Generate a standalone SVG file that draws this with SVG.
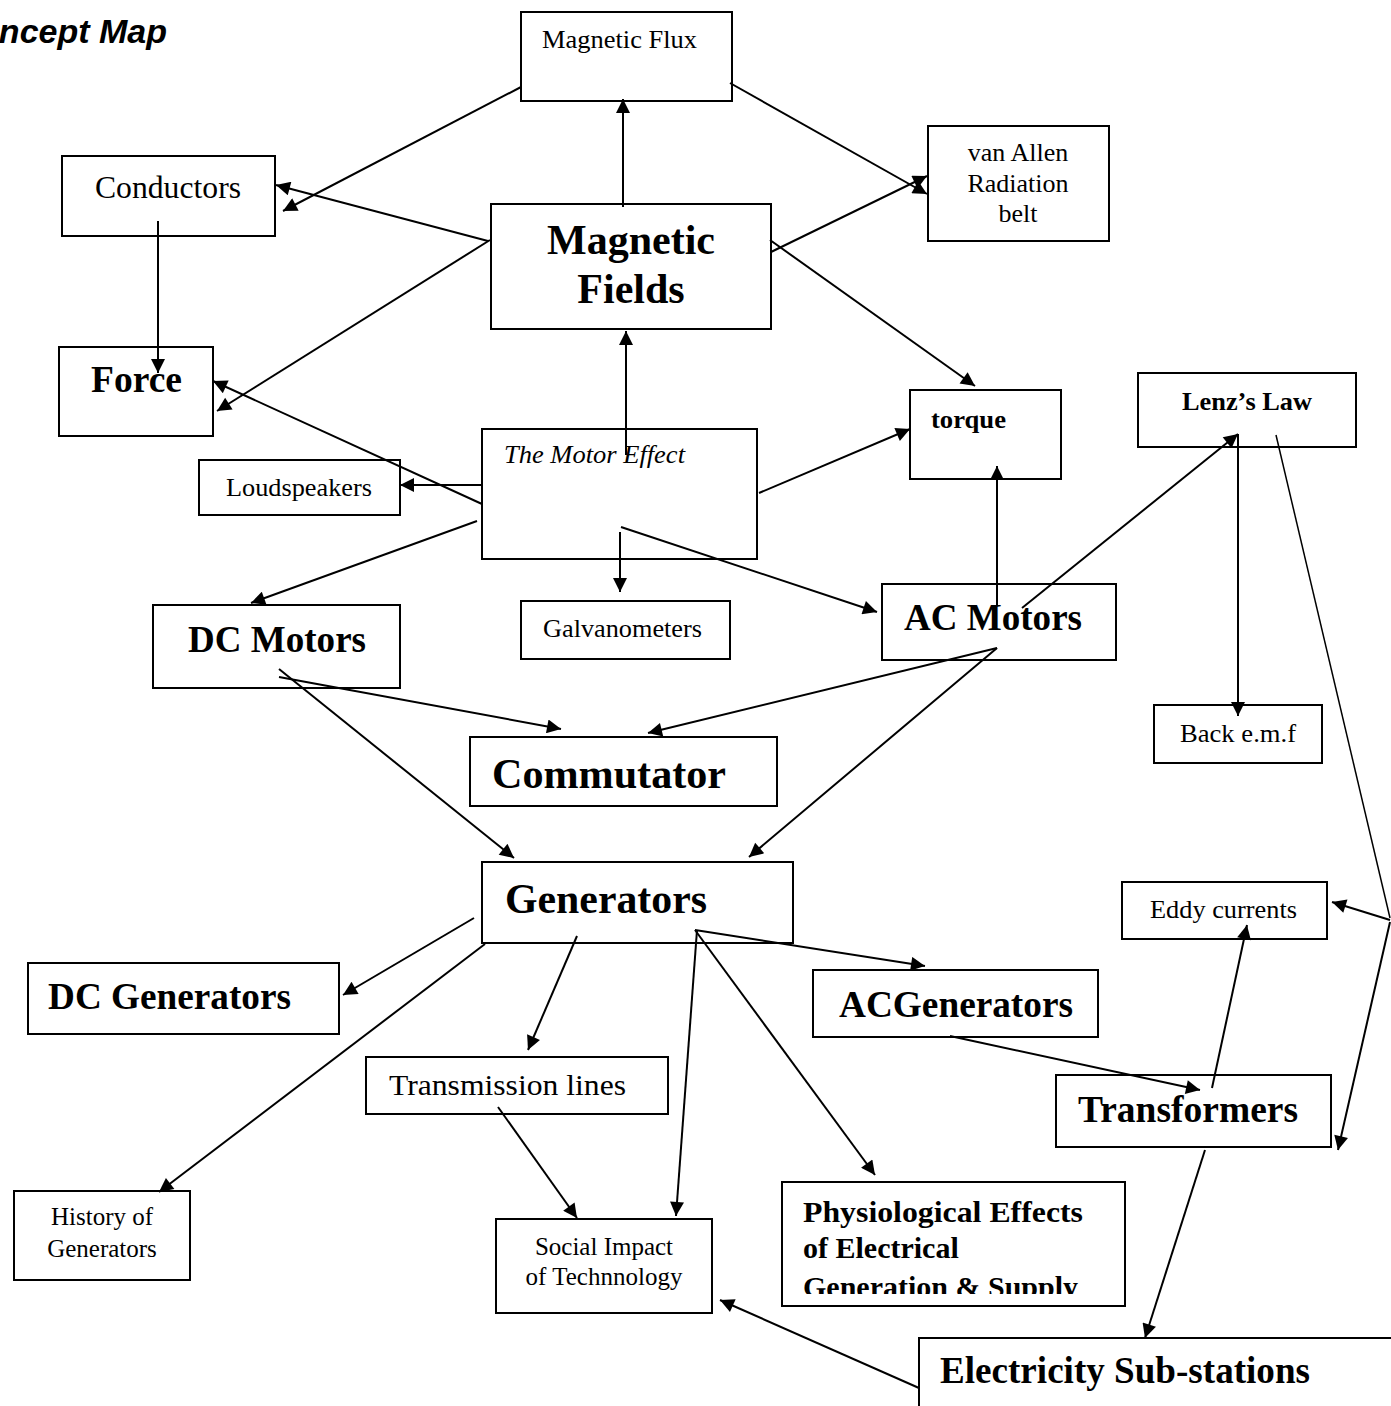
<svg xmlns="http://www.w3.org/2000/svg" width="1391" height="1406" viewBox="0 0 1391 1406">
<style>
.box{fill:none;stroke:#000;stroke-width:2}
.t{font-family:"Liberation Serif","Times New Roman",serif;fill:#000}
.b{font-weight:bold}
.i{font-style:italic}
.m{text-anchor:middle}
.c line{stroke:#000;stroke-width:2;marker-end:url(#arr)}
.c line.n{marker-end:none;stroke-width:1.5}
</style>
<defs>
<marker id="arr" viewBox="0 0 10 10" refX="10" refY="5" markerWidth="18" markerHeight="14" markerUnits="userSpaceOnUse" orient="auto">
<path d="M0,0 L10,5 L0,10 z" fill="#000"/>
</marker>
<clipPath id="physClip"><rect x="782" y="1182" width="343" height="112"/></clipPath>
</defs>
<rect width="1391" height="1406" fill="#fff"/>
<text x="167" y="43" font-family="'Liberation Sans',Arial,sans-serif" font-weight="bold" font-style="italic" font-size="34" text-anchor="end">Concept Map</text>

<g id="magnetic-flux"><rect class="box" x="521" y="12" width="211" height="89"/><text class="t" x="542" y="48" font-size="26" textLength="155" lengthAdjust="spacingAndGlyphs">Magnetic Flux</text></g>
<g id="conductors"><rect class="box" x="62" y="156" width="213" height="80"/><text class="t" x="95" y="198" font-size="31" textLength="146" lengthAdjust="spacingAndGlyphs">Conductors</text></g>
<g id="van-allen"><rect class="box" x="928" y="126" width="181" height="115"/><text class="t m" x="1018" y="161" font-size="26">van Allen</text><text class="t m" x="1018" y="192" font-size="26">Radiation</text><text class="t m" x="1018" y="222" font-size="26">belt</text></g>
<g id="magnetic-fields"><rect class="box" x="491" y="204" width="280" height="125"/><text class="t b m" x="631" y="254" font-size="42">Magnetic</text><text class="t b m" x="631" y="303" font-size="42">Fields</text></g>
<g id="force"><rect class="box" x="59" y="347" width="154" height="89"/><text class="t b" x="91" y="392" font-size="37" textLength="91" lengthAdjust="spacingAndGlyphs">Force</text></g>
<g id="loudspeakers"><rect class="box" x="199" y="460" width="201" height="55"/><text class="t" x="226" y="496" font-size="26" textLength="146" lengthAdjust="spacingAndGlyphs">Loudspeakers</text></g>
<g id="motor-effect"><rect class="box" x="482" y="429" width="275" height="130"/><text class="t i" x="504" y="463" font-size="26" textLength="181" lengthAdjust="spacingAndGlyphs">The Motor Effect</text></g>
<g id="torque"><rect class="box" x="910" y="390" width="151" height="89"/><text class="t b" x="931" y="428" font-size="26" textLength="75" lengthAdjust="spacingAndGlyphs">torque</text></g>
<g id="lenz"><rect class="box" x="1138" y="373" width="218" height="74"/><text class="t b" x="1182" y="410" font-size="26" textLength="130" lengthAdjust="spacingAndGlyphs">Lenz’s Law</text></g>
<g id="galvanometers"><rect class="box" x="521" y="601" width="209" height="58"/><text class="t" x="543" y="637" font-size="26" textLength="159" lengthAdjust="spacingAndGlyphs">Galvanometers</text></g>
<g id="dc-motors"><rect class="box" x="153" y="605" width="247" height="83"/><text class="t b" x="188" y="652" font-size="37" textLength="178" lengthAdjust="spacingAndGlyphs">DC Motors</text></g>
<g id="ac-motors"><rect class="box" x="882" y="584" width="234" height="76"/><text class="t b" x="904" y="630" font-size="37" textLength="178" lengthAdjust="spacingAndGlyphs">AC Motors</text></g>
<g id="back-emf"><rect class="box" x="1154" y="705" width="168" height="58"/><text class="t" x="1180" y="742" font-size="26" textLength="116" lengthAdjust="spacingAndGlyphs">Back e.m.f</text></g>
<g id="commutator"><rect class="box" x="470" y="737" width="307" height="69"/><text class="t b" x="492" y="788" font-size="42" textLength="234" lengthAdjust="spacingAndGlyphs">Commutator</text></g>
<g id="generators"><rect class="box" x="482" y="862" width="311" height="81"/><text class="t b" x="505" y="913" font-size="42" textLength="202" lengthAdjust="spacingAndGlyphs">Generators</text></g>
<g id="eddy"><rect class="box" x="1122" y="882" width="205" height="57"/><text class="t" x="1150" y="918" font-size="26" textLength="147" lengthAdjust="spacingAndGlyphs">Eddy currents</text></g>
<g id="dc-generators"><rect class="box" x="28" y="963" width="311" height="71"/><text class="t b" x="48" y="1009" font-size="37" textLength="243" lengthAdjust="spacingAndGlyphs">DC Generators</text></g>
<g id="ac-generators"><rect class="box" x="813" y="970" width="285" height="67"/><text class="t b" x="839" y="1017" font-size="37" textLength="234" lengthAdjust="spacingAndGlyphs">ACGenerators</text></g>
<g id="transmission"><rect class="box" x="366" y="1057" width="302" height="57"/><text class="t" x="389" y="1095" font-size="30" textLength="237" lengthAdjust="spacingAndGlyphs">Transmission lines</text></g>
<g id="transformers"><rect class="box" x="1056" y="1075" width="275" height="72"/><text class="t b" x="1078" y="1122" font-size="37" textLength="220" lengthAdjust="spacingAndGlyphs">Transformers</text></g>
<g id="history"><rect class="box" x="14" y="1191" width="176" height="89"/><text class="t m" x="102" y="1225" font-size="25">History of</text><text class="t m" x="102" y="1257" font-size="25">Generators</text></g>
<g id="social"><rect class="box" x="496" y="1219" width="216" height="94"/><text class="t m" x="604" y="1255" font-size="25">Social Impact</text><text class="t m" x="604" y="1285" font-size="25">of Technnology</text></g>
<g id="physiological"><rect class="box" x="782" y="1182" width="343" height="124"/><g clip-path="url(#physClip)"><text class="t b" x="803" y="1222" font-size="30" textLength="280" lengthAdjust="spacingAndGlyphs">Physiological Effects</text><text class="t b" x="803" y="1258" font-size="30">of Electrical</text><text class="t b" x="803" y="1297" font-size="30">Generation &amp; Supply</text></g></g>
<g id="substations"><rect class="box" x="919" y="1338" width="490" height="100"/><text class="t b" x="940" y="1383" font-size="37" textLength="370" lengthAdjust="spacingAndGlyphs">Electricity Sub-stations</text></g>

<g id="connectors" class="c">
<line x1="521" y1="87" x2="283" y2="211"/>
<line x1="488" y1="241" x2="276" y2="185"/>
<line x1="490" y1="240" x2="217" y2="411"/>
<line x1="158" y1="221" x2="158" y2="373"/>
<line x1="623" y1="207" x2="623" y2="99"/>
<line x1="730" y1="83" x2="927" y2="194"/>
<line x1="771" y1="252" x2="927" y2="176"/>
<line x1="770" y1="240" x2="975" y2="386"/>
<line x1="626" y1="455" x2="626" y2="331"/>
<line x1="482" y1="485" x2="400" y2="485"/>
<line x1="482" y1="504" x2="213" y2="381"/>
<line x1="477" y1="521" x2="251" y2="603"/>
<line x1="759" y1="493" x2="910" y2="429"/>
<line x1="620" y1="532" x2="620" y2="592"/>
<line x1="621" y1="527" x2="877" y2="612"/>
<line x1="997" y1="605" x2="997" y2="466"/>
<line x1="1022" y1="608" x2="1238" y2="434"/>
<line x1="997" y1="648" x2="648" y2="733"/>
<line x1="997" y1="648" x2="749" y2="857"/>
<line x1="279" y1="677" x2="561" y2="729"/>
<line x1="279" y1="669" x2="514" y2="858"/>
<line x1="1238" y1="434" x2="1238" y2="716"/>
<line class="n" x1="1276" y1="435" x2="1390" y2="918"/>
<line x1="1390" y1="920" x2="1332" y2="902"/>
<line x1="1390" y1="922" x2="1338" y2="1150"/>
<line x1="1212" y1="1088" x2="1247" y2="925"/>
<line x1="1205" y1="1150" x2="1145" y2="1338"/>
<line x1="919" y1="1388" x2="720" y2="1300"/>
<line x1="474" y1="918" x2="343" y2="995"/>
<line x1="485" y1="944" x2="159" y2="1192"/>
<line x1="577" y1="936" x2="528" y2="1050"/>
<line x1="498" y1="1107" x2="577" y2="1218"/>
<line x1="697" y1="930" x2="676" y2="1216"/>
<line x1="695" y1="930" x2="925" y2="966"/>
<line x1="695" y1="930" x2="875" y2="1175"/>
<line x1="950" y1="1036" x2="1200" y2="1090"/>
</g>
</svg>
